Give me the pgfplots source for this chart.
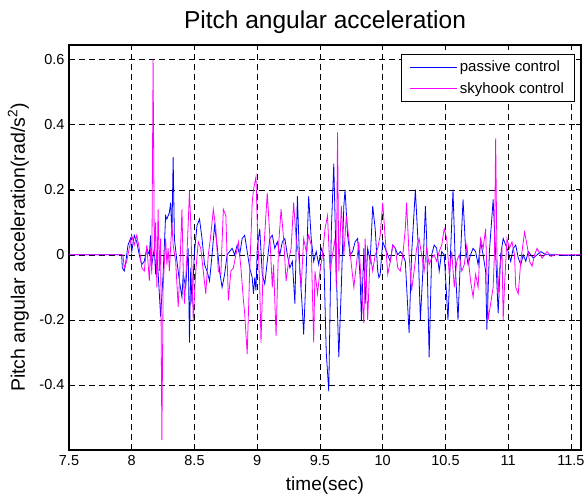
\documentclass[border=0pt]{standalone}
\usepackage{fontspec}
\setmainfont{Liberation Sans}
\usepackage{pgfplots}
\pgfplotsset{compat=1.18}

\definecolor{passive}{RGB}{0,0,255}
\definecolor{skyhook}{RGB}{255,0,255}

\begin{document}
\begin{tikzpicture}
\begin{axis}[
  name=ax,
  at={(0,0)}, anchor=south west,
  scale only axis,
  width=512pt, height=405pt,
  xmin=7.5, xmax=11.58,
  ymin=-0.6, ymax=0.645,
  xtick={7.5,8,...,11.5},
  ytick={-0.4,-0.2,0,0.2,0.4,0.6},
  tick align=inside,
  xtick pos=both, ytick pos=both,
  major tick length=5pt,
  tick style={black, line width=0.6pt},
  axis line style={black, line width=1.1pt},
  grid=major,
  major grid style={black, line width=0.5pt, dash pattern=on 6pt off 4pt},
  /pgf/number format/assume math mode=true,
  ticklabel style={font=\fontsize{14.5}{16}\selectfont},
  yticklabel style={xshift=-1pt},
  xticklabel style={yshift=-2pt},
  title={Pitch angular acceleration},
  title style={at={(axis description cs:0.5,1.0247)}, anchor=base,
               font=\fontsize{24.5}{28}\selectfont},
  xlabel={time(sec)},
  xlabel style={at={(axis description cs:0.5,-0.0988)}, anchor=base,
                font=\fontsize{19}{22}\selectfont},
  ylabel={Pitch angular acceleration(rad/s\textsuperscript{2})},
  ylabel style={at={(axis description cs:-0.086,0.5)}, anchor=base, rotate=0,
                font=\fontsize{19.5}{22}\selectfont},
  legend style={at={(axis description cs:1,1)}, anchor=north east,
                xshift=-6pt, yshift=-9pt,
                draw=black, line width=0.8pt, fill=white,
                font=\fontsize{15}{17}\selectfont,
                inner xsep=8pt, inner ysep=4pt, row sep=4pt,
                nodes={inner sep=2.5pt}},
  legend cell align=left,
  legend image code/.code={\draw[#1, line width=0.9pt] (0pt,0pt) -- (47pt,0pt);},
]

% passive suspension response
\addplot[passive, line width=0.8pt] coordinates {
(7.5,0) (7.92,0) (7.925,-0.04) (7.94,-0.05) (7.95,-0.03) (7.97,0.03) (7.99,0.05)
(8.0,0.01) (8.02,0.06) (8.04,0.04) (8.06,0.0) (8.08,-0.03) (8.10,-0.02) (8.12,0.02)
(8.14,0.0) (8.15,0.06) (8.16,-0.03) (8.18,0.02) (8.19,-0.06) (8.20,0.01) (8.22,-0.12)
(8.23,-0.19) (8.25,-0.06) (8.27,0.12) (8.28,0.11) (8.30,0.13) (8.31,0.16) (8.32,0.06)
(8.33,0.30) (8.34,0.05) (8.36,-0.02) (8.38,-0.08) (8.40,-0.13) (8.41,-0.06) (8.43,-0.10)
(8.45,0.02) (8.46,-0.27) (8.47,-0.04) (8.48,-0.15) (8.50,0.01) (8.52,0.09) (8.54,0.11)
(8.56,0.05) (8.58,-0.03) (8.60,-0.05) (8.62,-0.08) (8.64,0.0) (8.66,0.09) (8.68,0.03)
(8.70,-0.05) (8.72,-0.10) (8.74,-0.06) (8.76,0.0) (8.78,0.01) (8.80,0.02) (8.82,0.0)
(8.84,0.03) (8.86,0.0) (8.88,0.05) (8.90,0.06) (8.92,0.01) (8.94,-0.04) (8.96,-0.07)
(8.97,-0.12) (8.98,-0.07) (8.99,-0.11) (9.00,0.02) (9.02,0.08) (9.04,-0.06) (9.06,-0.09)
(9.08,-0.02) (9.10,0.05) (9.12,0.06) (9.14,0.02) (9.16,0.04) (9.18,0.0) (9.20,0.04)
(9.22,0.05) (9.24,0.0) (9.26,-0.04) (9.28,-0.02) (9.30,-0.15) (9.32,0.18) (9.34,-0.05)
(9.36,-0.17) (9.37,-0.245) (9.39,-0.05) (9.41,0.18) (9.43,0.05) (9.45,-0.02) (9.47,0.01)
(9.49,-0.03) (9.51,0.02) (9.53,0.0) (9.55,-0.30) (9.57,-0.42) (9.59,0.07) (9.61,0.28)
(9.63,-0.05) (9.65,-0.315) (9.67,-0.10) (9.69,0.15) (9.70,0.20) (9.72,0.06) (9.74,0.0)
(9.76,0.01) (9.78,0.04) (9.80,0.05) (9.82,-0.07) (9.83,-0.20) (9.85,0.02) (9.86,-0.15)
(9.88,0.02) (9.90,-0.02) (9.92,0.15) (9.94,0.08) (9.96,-0.05) (9.97,-0.07) (9.98,-0.06)
(10.00,0.04) (10.02,0.02) (10.04,0.0) (10.06,-0.02) (10.08,0.03) (10.10,0.02) (10.12,0.0)
(10.14,0.01) (10.16,0.0) (10.18,-0.02) (10.21,-0.24) (10.23,0.0) (10.26,0.20) (10.28,0.05)
(10.30,-0.20) (10.32,-0.05) (10.34,0.15) (10.35,0.05) (10.37,-0.315) (10.39,0.0) (10.41,0.03)
(10.43,0.02) (10.45,-0.05) (10.47,0.01) (10.49,0.0) (10.52,-0.20) (10.54,0.0) (10.56,0.20)
(10.58,-0.05) (10.60,-0.20) (10.62,0.0) (10.64,0.17) (10.66,0.02) (10.68,-0.03) (10.70,0.0)
(10.72,0.02) (10.74,0.01) (10.76,-0.03) (10.78,0.04) (10.80,0.0) (10.82,-0.05) (10.83,-0.23)
(10.85,0.01) (10.88,0.17) (10.90,0.0) (10.92,-0.18) (10.94,0.0) (10.96,0.05) (10.98,0.03)
(11.00,0.01) (11.02,-0.02) (11.04,0.02) (11.06,0.03) (11.08,-0.01) (11.10,-0.03) (11.12,0.0)
(11.14,-0.02) (11.16,0.01) (11.18,0.0) (11.20,-0.01) (11.23,0.0) (11.26,0.01) (11.30,0.0)
(11.35,0.0) (11.40,0.0) (11.45,-0.002) (11.58,0)
};
\addlegendentry{passive control}

% skyhook suspension response
\addplot[skyhook, line width=0.8pt] coordinates {
(7.5,0) (7.93,0) (7.94,-0.04) (7.96,-0.02) (7.98,0.02) (8.00,0.06) (8.02,0.03) (8.04,0.06)
(8.06,0.02) (8.08,-0.04) (8.10,-0.05) (8.12,0.03) (8.14,-0.08) (8.15,0.02) (8.16,-0.06)
(8.17,0.60) (8.18,0.0) (8.19,0.10) (8.20,-0.10) (8.21,0.14) (8.22,-0.05) (8.23,0.05)
(8.24,-0.57) (8.25,-0.10) (8.27,0.05) (8.28,-0.03) (8.29,0.02) (8.30,-0.05) (8.32,0.10)
(8.33,0.03) (8.35,-0.02) (8.37,-0.16) (8.38,-0.08) (8.40,0.14) (8.41,-0.04) (8.42,-0.15)
(8.44,0.0) (8.46,0.196) (8.47,0.10) (8.49,-0.20) (8.51,-0.05) (8.53,0.04) (8.55,0.02)
(8.57,-0.05) (8.59,-0.12) (8.61,0.0) (8.63,0.06) (8.65,0.14) (8.67,0.08) (8.69,-0.05)
(8.71,-0.06) (8.73,0.14) (8.75,0.12) (8.77,-0.14) (8.79,-0.05) (8.81,-0.04) (8.83,0.0)
(8.85,0.04) (8.87,-0.04) (8.89,-0.14) (8.90,-0.18) (8.92,-0.305) (8.94,-0.05) (8.96,0.16)
(8.97,0.20) (8.99,0.24) (9.00,0.10) (9.02,-0.10) (9.03,-0.27) (9.05,0.0) (9.08,0.19)
(9.10,0.06) (9.12,-0.10) (9.13,-0.03) (9.15,-0.25) (9.17,0.03) (9.19,0.14) (9.21,0.05)
(9.23,-0.08) (9.25,-0.02) (9.27,0.02) (9.29,0.16) (9.31,0.05) (9.33,0.0) (9.35,-0.10)
(9.37,0.05) (9.39,0.01) (9.41,0.06) (9.43,0.03) (9.45,-0.27) (9.46,-0.05) (9.48,-0.12)
(9.50,-0.05) (9.52,0.0) (9.54,0.08) (9.56,0.12) (9.58,-0.05) (9.60,0.0) (9.62,0.05)
(9.63,-0.10) (9.64,0.376) (9.65,-0.05) (9.67,0.15) (9.69,0.0) (9.71,0.12) (9.73,0.05)
(9.75,-0.03) (9.77,-0.10) (9.79,-0.03) (9.81,0.04) (9.83,-0.10) (9.85,-0.21) (9.86,0.05)
(9.88,-0.20) (9.90,0.0) (9.92,-0.05) (9.94,0.0) (9.96,0.02) (9.98,0.06) (10.00,0.16)
(10.02,0.05) (10.04,-0.06) (10.06,-0.02) (10.08,0.03) (10.10,0.02) (10.12,-0.04) (10.14,-0.05)
(10.16,0.0) (10.18,0.08) (10.19,0.16) (10.21,0.0) (10.23,-0.11) (10.25,-0.05) (10.27,0.02)
(10.29,0.05) (10.31,0.0) (10.33,-0.05) (10.35,0.02) (10.37,-0.03) (10.39,-0.01) (10.41,0.0)
(10.43,-0.02) (10.45,0.01) (10.47,0.03) (10.49,0.08) (10.51,0.05) (10.53,-0.06) (10.55,0.01)
(10.57,-0.10) (10.59,-0.02) (10.61,0.0) (10.63,-0.05) (10.65,-0.03) (10.67,0.03) (10.70,-0.08)
(10.72,-0.13) (10.74,-0.06) (10.76,-0.10) (10.78,0.05) (10.80,0.02) (10.82,0.08) (10.84,-0.20)
(10.86,-0.15) (10.88,-0.10) (10.89,0.0) (10.90,0.358) (10.91,0.0) (10.92,-0.12) (10.93,-0.05)
(10.95,0.02) (10.96,-0.20) (10.97,-0.10) (10.99,0.05) (11.01,0.02) (11.03,0.04) (11.05,0.0)
(11.06,-0.10) (11.08,-0.12) (11.10,-0.02) (11.12,0.04) (11.13,0.07) (11.15,0.03) (11.17,-0.02)
(11.19,-0.035) (11.21,0.0) (11.23,0.02) (11.25,0.005) (11.27,-0.01) (11.29,0.0) (11.31,0.01)
(11.34,-0.005) (11.37,0.0) (11.58,0)
};
\addlegendentry{skyhook control}

\end{axis}
\pgfresetboundingbox
\path[use as bounding box] (-69pt,-45pt) rectangle (515pt,450pt);
\end{tikzpicture}
\end{document}
